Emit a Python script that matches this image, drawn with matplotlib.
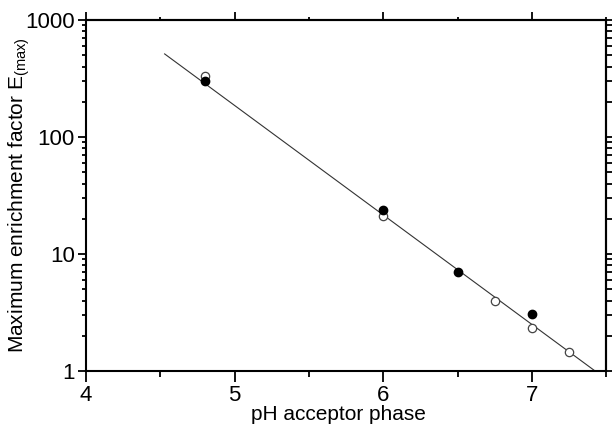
import numpy as np
import matplotlib.pyplot as plt
from matplotlib.ticker import LogLocator, MultipleLocator, NullFormatter

plt.rcParams['font.family'] = ['Liberation Sans', 'DejaVu Sans']
plt.rcParams['mathtext.fontset'] = 'custom'
plt.rcParams['mathtext.rm'] = 'Liberation Sans'

# filled symbols
ph_filled = [4.8, 6.0, 6.5, 7.0]
e_filled = [300, 24, 7.0, 3.1]
# open symbols
ph_open = [4.8, 6.0, 6.75, 7.0, 7.25]
e_open = [330, 21, 4.0, 2.35, 1.45]

# log-linear fit: log10(E) = a - b*pH
fit_a = 6.95
fit_b = 0.936
fit_ph = [4.53, 7.43]

fig = plt.figure(figsize=(6.13, 4.25), dpi=100)
ax = fig.add_axes([0.140, 0.127, 0.849, 0.826])

x = np.array(fit_ph)
ax.plot(x, 10 ** (fit_a - fit_b * x), color='#333333', lw=0.8, zorder=1)
ax.plot(ph_filled, e_filled, 'o', color='black', ms=6, zorder=3)
ax.plot(ph_open, e_open, 'o', mfc='white', mec='#444444', mew=0.9, ms=6, zorder=2)

ax.set_yscale('log')
ax.set_xlim(4, 7.5)
ax.set_ylim(1, 1000)
ax.xaxis.set_major_locator(MultipleLocator(1))
ax.xaxis.set_minor_locator(MultipleLocator(0.5))
ax.yaxis.set_minor_locator(LogLocator(base=10, subs=np.arange(2, 10)))
ax.yaxis.set_minor_formatter(NullFormatter())
ax.set_yticks([1, 10, 100, 1000])
ax.set_yticklabels(['1', '10', '100', '1000'])

ax.tick_params(axis='both', which='both', direction='out', labelsize=16,
               width=1.3, colors='black')
ax.tick_params(axis='x', which='major', length=8, pad=2)
ax.tick_params(axis='x', which='minor', length=4)
ax.tick_params(axis='y', which='major', length=6, pad=2)
ax.tick_params(axis='y', which='minor', length=3)
for s in ax.spines.values():
    s.set_linewidth(1.5)

# top and right axes carry unlabelled ticks
top = ax.secondary_xaxis('top')
top.xaxis.set_major_locator(MultipleLocator(1))
top.xaxis.set_minor_locator(MultipleLocator(0.5))
top.tick_params(which='major', length=6, width=1.3, labeltop=False)
top.tick_params(which='minor', length=2, width=1.3)
top.spines['top'].set_linewidth(1.5)

right = ax.secondary_yaxis('right')
right.yaxis.set_minor_locator(LogLocator(base=10, subs=np.arange(2, 10)))
right.set_yticks([1, 10, 100, 1000])
right.tick_params(which='both', length=4, width=1.3, labelright=False)
right.yaxis.set_minor_formatter(NullFormatter())
right.spines['right'].set_linewidth(1.5)

ax.set_xlabel('pH acceptor phase', fontsize=15)
ax.xaxis.set_label_coords(0.485, -0.098)
ax.set_ylabel(r'Maximum enrichment factor E$_{\mathrm{(max)}}$', fontsize=15)
ax.yaxis.set_label_coords(-0.103, 0.5)

fig.savefig('out.png', dpi=100)
